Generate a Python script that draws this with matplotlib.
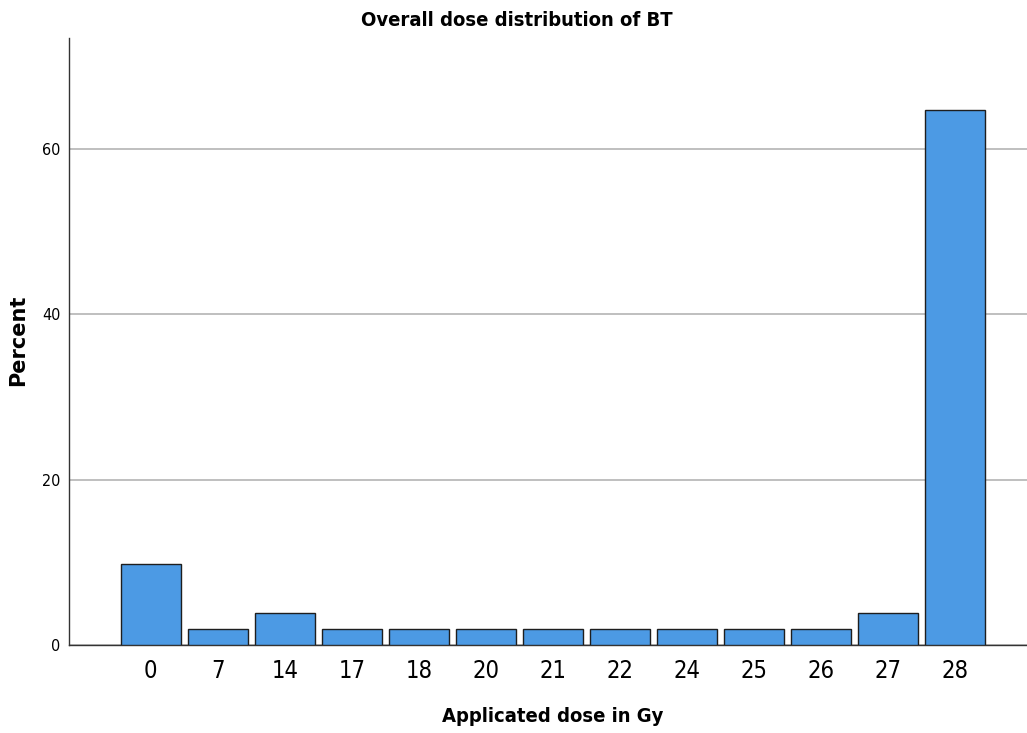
import matplotlib
matplotlib.use("Agg")
import matplotlib.pyplot as plt

categories = ["0", "7", "14", "17", "18", "20", "21", "22", "24", "25", "26", "27", "28"]
percent = [9.8, 1.96, 3.92, 1.96, 1.96, 1.96, 1.96, 1.96, 1.96, 1.96, 1.96, 3.92, 64.71]
yticks = [0, 20, 40, 60]

fig = plt.figure(figsize=(10.27, 7.33), dpi=100)
ax = fig.add_axes([69/1027, 88/733, 1 - 69/1027, (645-38)/733])

x = list(range(len(categories)))
ax.bar(x, percent, width=0.9, color="#4c9ae4", edgecolor="#1e1e1e", linewidth=1.0, zorder=3)

ax.set_xlim(-1.22, 13.07)
ax.set_ylim(0, 73.4)
ax.set_xticks(x)
ax.set_xticklabels(categories, fontsize=17, fontstretch="condensed")
ax.set_yticks(yticks)
ax.set_yticklabels([str(v) for v in yticks], fontsize=11.5, fontstretch="condensed")
ax.tick_params(axis="x", length=0, pad=10)
ax.tick_params(axis="y", length=0, pad=6)
ax.yaxis.grid(True, color="#b4b4b4", linewidth=1.2, zorder=0)
ax.set_axisbelow(True)
for s in ["top", "right"]:
    ax.spines[s].set_visible(False)
for s in ["left", "bottom"]:
    ax.spines[s].set_color("#333333")
    ax.spines[s].set_linewidth(1.0)

fig.text(517/1027, 1 - 20/733, "Overall dose distribution of BT", ha="center", va="center",
         fontsize=14.5, fontweight="bold", fontstretch="condensed")
fig.text(553/1027, 1 - 716/733, "Applicated dose in Gy", ha="center", va="center",
         fontsize=14.5, fontweight="bold", fontstretch="condensed")
fig.text(18/1027, 1 - 340/733, "Percent", ha="center", va="center", rotation=90,
         fontsize=15, fontweight="bold")

fig.savefig("out.png", dpi=100)
